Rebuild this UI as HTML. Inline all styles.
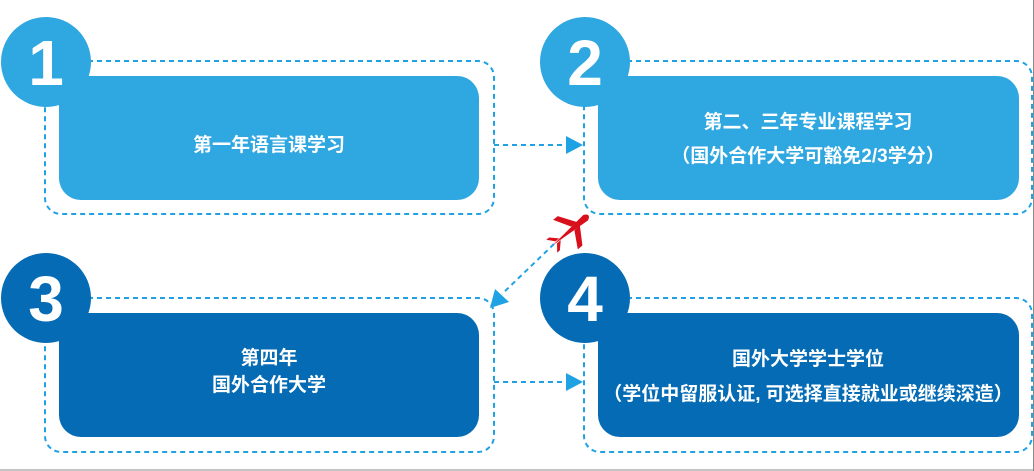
<!DOCTYPE html>
<html><head><meta charset="utf-8"><style>
body{margin:0;background:#fff;}
svg{display:block;}
text{font-family:"Liberation Sans","Noto Sans CJK SC",sans-serif;font-weight:bold;fill:#fff;}
</style></head><body>
<svg width="1034" height="471" viewBox="0 0 1034 471">
<g fill="none" stroke="#1ea2e4" stroke-width="2" stroke-dasharray="5,4">
<rect x="45" y="61" width="449" height="153" rx="16"/>
<rect x="584" y="61" width="448" height="153" rx="16"/>
<rect x="45" y="298" width="449" height="154" rx="16"/>
<rect x="584" y="298" width="448" height="154" rx="16"/>
<line x1="494" y1="145" x2="568" y2="145"/>
<line x1="494" y1="382" x2="568" y2="382"/>
<line x1="554" y1="244" x2="502" y2="294"/>
</g>
<g fill="#1ea2e4">
<polygon points="566,136 583,145 566,154"/>
<polygon points="566,373 583,382 566,391"/>
<polygon points="490,308 495,289 509,302"/>
</g>
<rect x="59" y="76" width="420" height="124" rx="22" fill="#2fa7e0"/>
<rect x="598" y="76" width="421" height="124" rx="22" fill="#2fa7e0"/>
<rect x="59" y="313" width="420" height="124" rx="22" fill="#046bb4"/>
<rect x="598" y="313" width="421" height="124" rx="22" fill="#046bb4"/>
<circle cx="46" cy="62" r="45" fill="#2fa7e0"/>
<circle cx="585" cy="62" r="45" fill="#2fa7e0"/>
<circle cx="46" cy="298" r="45" fill="#046bb4"/>
<circle cx="585" cy="298" r="45" fill="#046bb4"/>
<g font-size="64" text-anchor="middle">
<text x="46" y="85">1</text>
<text x="585" y="85">2</text>
<text x="46" y="321">3</text>
<text x="585" y="321">4</text>
</g>
<g font-size="19" text-anchor="middle">
<text x="269" y="151">第一年语言课学习</text>
<text x="808" y="128">第二、三年专业课程学习</text>
<text x="808" y="162">（国外合作大学可豁免2/3学分）</text>
<text x="269" y="364">第四年</text>
<text x="269" y="391">国外合作大学</text>
<text x="808" y="365">国外大学学士学位</text>
<text x="808" y="400">（学位中留服认证, 可选择直接就业或继续深造）</text>
</g>
<g fill="#d8101c" transform="translate(571,230) rotate(-40) scale(1.2)">
<path d="M-20,0 L16,-3 Q22,0 16,3 Z"/>
<path d="M2,-2 L-6,-16 L-1,-16 L8,-2 Z"/>
<path d="M2,2 L-6,16 L-1,16 L8,2 Z"/>
<path d="M-16,-1 L-21,-7 L-18,-7 L-12,-1 Z"/>
<path d="M-16,1 L-21,7 L-18,7 L-12,1 Z"/>
</g>
<line x1="0" y1="470" x2="1034" y2="470" stroke="#888" stroke-width="1"/>
<line x1="1033.5" y1="0" x2="1033.5" y2="471" stroke="#888" stroke-width="1"/>
</svg>
</body></html>
